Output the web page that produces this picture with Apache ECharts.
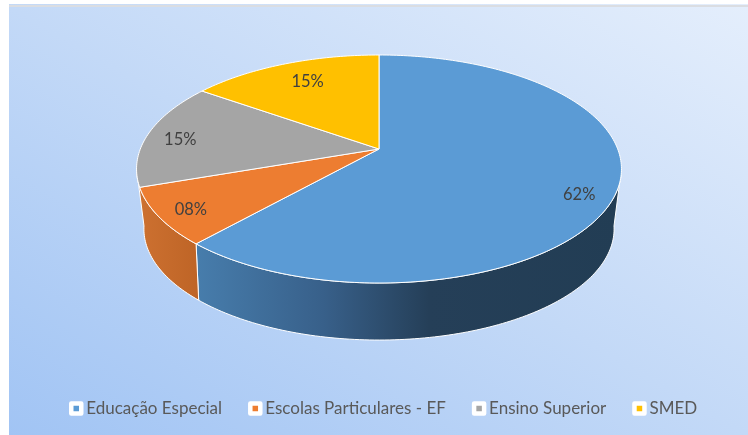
<!DOCTYPE html>
<html>
<head>
<meta charset="utf-8">
<style>html,body{margin:0;padding:0;background:#fff}#chart{width:748px;height:435px}</style>
<script src="https://cdn.jsdelivr.net/npm/echarts@6/dist/echarts.min.js"></script>
</head>
<body>
<div id="chart"></div>
<script>
var categories = ['Educação Especial', 'Escolas Particulares - EF', 'Ensino Superior', 'SMED'];
var shares = [61.6, 8.1, 15.1, 15.2];
var topColors = ['#5B9BD5', '#ED7D31', '#A5A5A5', '#FFC000'];

// perspective model of the tilted disc, fitted to the picture
var CX = 379, RX = 238.7, RY = 110.5;
var TOP_FACE = { y0: 149, scale: 1, k: 0.1754 };
var BOTTOM_FACE = { y0: 206.75, scale: 0.965, k: 0.2 };
var SIL_RIGHT = 100, SIL_LEFT = 260;   // angles where the rim turns away from the viewer
var WALL_SNAP = 15;                    // a slice ending this close to SIL_LEFT carries the wall to it
var LABEL_R = 0.85;
var LABEL_NUDGE = [[0, 10], [-4, 4], [-2, 4], [11, 6]];

function project(deg, r, face) {
  var a = deg * Math.PI / 180;
  var u = r * Math.sin(a), v = -r * Math.cos(a);
  var d = 1 - face.k * v;
  return [CX + face.scale * RX * u / d, face.y0 + face.scale * RY * v / d];
}

function arcPoints(from, to, face) {
  var pts = [], n = Math.max(2, Math.ceil(Math.abs(to - from)));
  for (var i = 0; i <= n; i++) pts.push(project(from + (to - from) * i / n, 1, face));
  return pts;
}

function wallStyle(idx) {
  if (idx === 0) {
    return { type: 'linear', x: 196, y: 0, x2: 620, y2: 0, global: true, colorStops: [
      { offset: 0, color: '#477DAC' }, { offset: 0.3, color: '#38608A' },
      { offset: 0.55, color: '#253F58' }, { offset: 1, color: '#223D54' }] };
  }
  return { type: 'linear', x: 142, y: 0, x2: 200, y2: 0, global: true, colorStops: [
    { offset: 0, color: '#CC7030' }, { offset: 1, color: '#BE6426' }] };
}

var total = shares.reduce(function (a, b) { return a + b; }, 0);
var acc = 0;
var series = categories.map(function (name, idx) {
  var start = acc / total * 360;
  acc += shares[idx];
  var end = acc / total * 360;
  return {
    name: name,
    type: 'custom',
    coordinateSystem: 'none',
    silent: true,
    itemStyle: { color: topColors[idx] },
    data: [[start, end, shares[idx]]],
    renderItem: function (params, api) {
      var s = api.value(0), e = api.value(1), value = Math.round(api.value(2));
      var children = [];

      // side wall, only where the rim faces the viewer
      var ws = Math.max(s, SIL_RIGHT);
      var we = e >= SIL_LEFT - WALL_SNAP ? SIL_LEFT : e;
      if (s < SIL_LEFT - WALL_SNAP) {
        var wallPts = arcPoints(ws, we, TOP_FACE).concat(arcPoints(we, ws, BOTTOM_FACE));
        children.push({
          type: 'polygon', z2: 1,
          shape: { points: wallPts },
          style: { fill: wallStyle(idx), stroke: '#fff', lineWidth: 1 }
        });
      }

      // top face
      var topPts = [[CX, TOP_FACE.y0]].concat(arcPoints(s, e, TOP_FACE));
      children.push({
        type: 'polygon', z2: 2,
        shape: { points: topPts },
        style: { fill: topColors[idx], stroke: '#fff', lineWidth: 1 }
      });

      // percent label
      var p = project((s + e) / 2, LABEL_R, TOP_FACE);
      children.push({
        type: 'text', z2: 3,
        x: p[0] + LABEL_NUDGE[idx][0], y: p[1] + LABEL_NUDGE[idx][1],
        style: {
          text: (value < 10 ? '0' : '') + value + '%',
          fill: '#404040', font: '16.5px Lato', align: 'center', verticalAlign: 'middle'
        }
      });
      return { type: 'group', children: children };
    }
  };
});

var chart = echarts.init(document.getElementById('chart'), null, { renderer: 'canvas' });
chart.setOption({
  animation: false,
  backgroundColor: '#fff',
  graphic: [{
    type: 'rect', z: -10, silent: true,
    shape: { x: 9, y: 4, width: 739, height: 431 },
    style: {
      fill: { type: 'linear', x: 193, y: 541, x2: 564, y2: -99, global: true, colorStops: [
        { offset: 0, color: '#A1C4F4' }, { offset: 0.5, color: '#C3D9F7' }, { offset: 1, color: '#E4EEFC' }] }
    }
  }, {
    type: 'rect', z: -9, silent: true,
    shape: { x: 9, y: 5, width: 739, height: 2 },
    style: { fill: '#DADDE2' }
  }],
  legend: {
    left: 64, top: 395,
    itemWidth: 10, itemHeight: 10, itemGap: 26,
    icon: 'rect',
    itemStyle: { borderColor: '#fff', borderWidth: 4.5, borderJoin: 'round' },
    textStyle: { color: '#595959', fontFamily: 'Lato', fontSize: 17 },
    data: categories
  },
  series: series
});
</script>
</body>
</html>
